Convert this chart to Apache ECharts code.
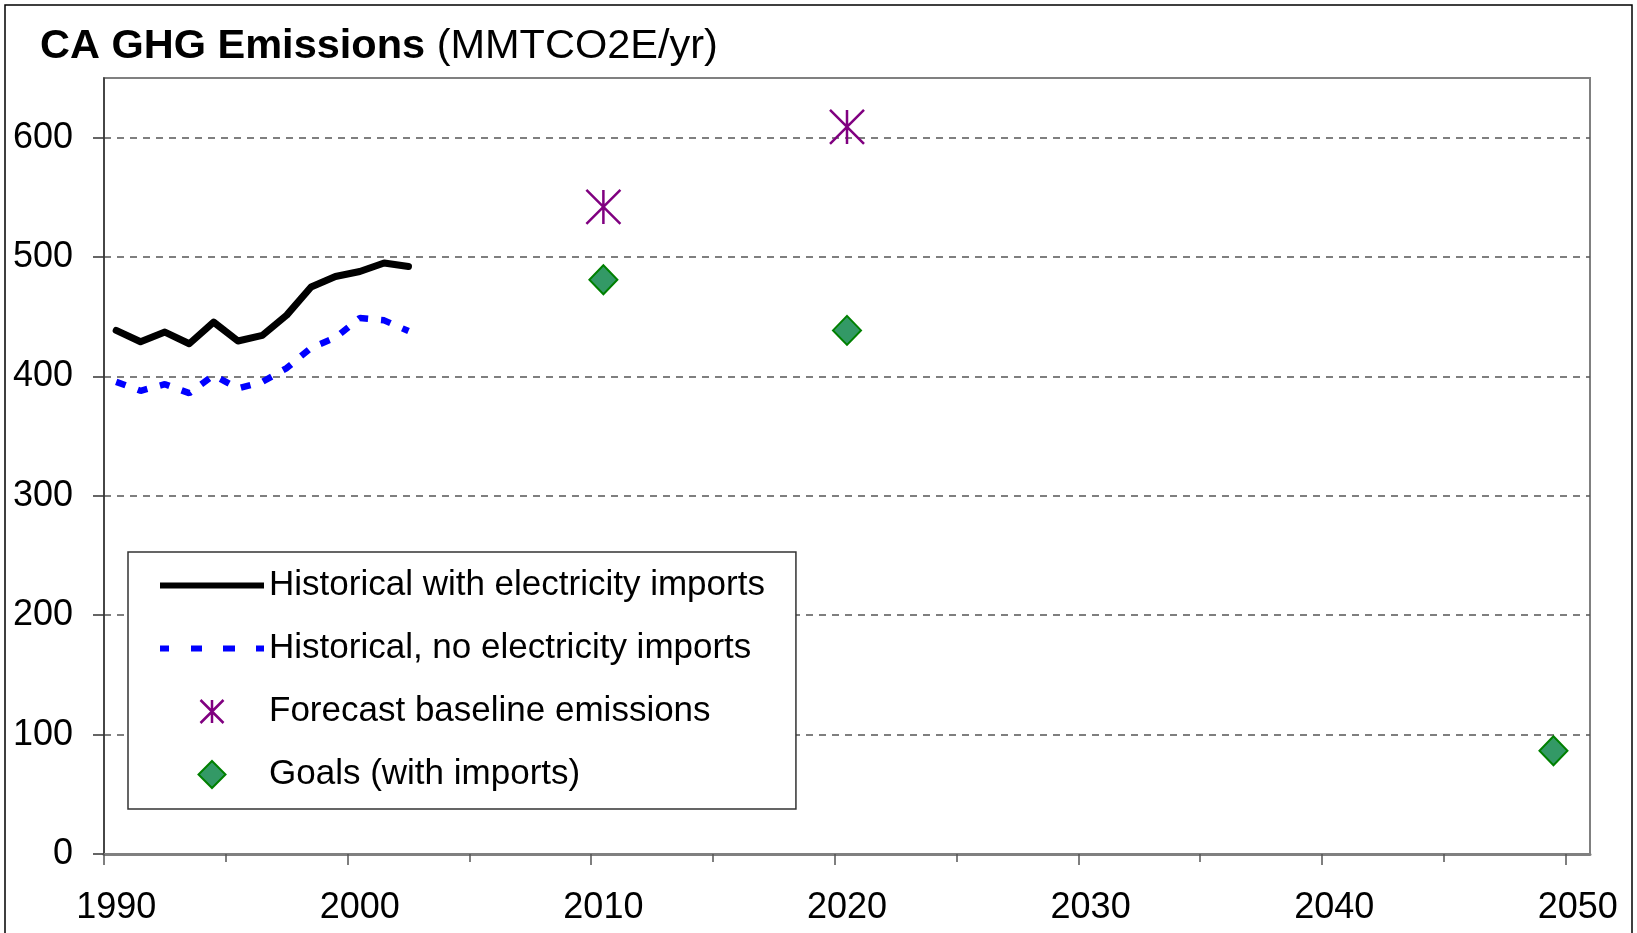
<!DOCTYPE html>
<html><head><meta charset="utf-8">
<script src="https://cdn.jsdelivr.net/npm/echarts@6/dist/echarts.min.js"></script>
<style>html,body{margin:0;padding:0;background:#fff}#c{width:1637px;height:933px}</style>
</head><body><div id="c"></div>
<script>
// ---- data ----
const histYears = [1990,1991,1992,1993,1994,1995,1996,1997,1998,1999,2000,2001,2002];
const histWithImports = [438.6,429.1,437.2,427.4,445.5,429.7,434.4,451.4,475.0,483.7,487.9,495.1,492.1];
const histNoImports = [395.5,388.0,393.5,386.0,401.0,390.0,395.5,407.0,424.0,432.5,449.0,447.0,438.0];
const forecastYears = [2010,2020];
const forecastValues = [542,609];
const goalYears = [2010,2020,2049];
const goalValues = [481,438.6,86.5];
const xLabelYears = [1990,2000,2010,2020,2030,2040,2050];
const xMinorYears = [1995,2005,2015,2025,2035,2045];
const yTickValues = [0,100,200,300,400,500,600];
const seriesNames = ['Historical with electricity imports','Historical, no electricity imports','Forecast baseline emissions','Goals (with imports)'];

const FONT = '"Liberation Sans", Arial, sans-serif';
const pairs = (xs, ys) => xs.map((x, i) => [x, ys[i]]);
const xMin = 1989.5, xMax = 2050.5;

const chart = echarts.init(document.getElementById('c'));
chart.setOption({
  animation: false,
  backgroundColor: '#fff',
  title: {
    left: 40, top: 26, padding: 0,
    text: '{b|CA GHG Emissions} {n|(MMTCO2E/yr)}',
    textStyle: {
      fontFamily: FONT, fontSize: 41.5, color: '#000', fontWeight: 'normal',
      rich: {
        b: {fontFamily: FONT, fontSize: 41.5, fontWeight: 'bold', color: '#000'},
        n: {fontFamily: FONT, fontSize: 41.5, fontWeight: 'normal', color: '#000'}
      }
    }
  },
  grid: {left: 104, right: 47, top: 78, bottom: 79, show: true, borderColor: '#808080', borderWidth: 2, backgroundColor: 'transparent', outerBoundsMode: 'none', containLabel: false},
  legend: {
    orient: 'vertical', left: 128, top: 552,
    padding: [16, 31, 17, 32],
    backgroundColor: '#fff', borderColor: '#333', borderWidth: 1.5,
    itemWidth: 104, itemHeight: 27, itemGap: 28,
    symbolKeepAspect: true,
    textStyle: {fontFamily: FONT, fontSize: 35, color: '#000', lineHeight: 35},
    data: [
      {name: seriesNames[0], icon: 'path://M0,0 H104 V6 H0 Z', itemStyle: {color: '#000', borderWidth: 0}},
      {name: seriesNames[1], icon: 'path://M0,0h9v6h-9z M31,0h11v6h-11z M63,0h12v6h-12z M96,0h8v6h-8z', itemStyle: {color: '#0000ff', borderWidth: 0}},
      {name: seriesNames[2], icon: 'path://M0,0 M27,27 M13.5,2 L13.5,25 M2,2 L25,25 M25,2 L2,25', itemStyle: {color: 'none', borderColor: '#800080', borderWidth: 2.5}},
      {name: seriesNames[3], icon: 'path://M13.5,0 L27,13.5 L13.5,27 L0,13.5 Z', itemStyle: {color: '#339966', borderColor: '#008000', borderWidth: 2}}
    ],
    selectedMode: false
  },
  xAxis: [{
    type: 'value', min: xMin, max: xMax, position: 'bottom',
    axisLine: {show: true, onZero: false, lineStyle: {color: '#808080', width: 3}},
    axisTick: {show: true, length: 11, customValues: xLabelYears.map(y => y - 0.5), lineStyle: {color: '#555', width: 1.5}},
    axisLabel: {show: true, customValues: xLabelYears, margin: 36, fontFamily: FONT, fontSize: 36, color: '#000', formatter: v => String(Math.round(v))},
    splitLine: {show: false}
  }, {
    type: 'value', min: xMin, max: xMax, position: 'bottom',
    axisLine: {show: false},
    axisTick: {show: true, length: 8, customValues: xMinorYears.map(y => y - 0.5), lineStyle: {color: '#555', width: 1.5}},
    axisLabel: {show: false},
    splitLine: {show: false}
  }],
  yAxis: {
    type: 'value', min: 0, max: 650, interval: 100,
    axisLine: {show: true, onZero: false, lineStyle: {color: '#333', width: 1.5}},
    axisTick: {show: true, length: 11, customValues: yTickValues, lineStyle: {color: '#333', width: 1.5}},
    axisLabel: {customValues: yTickValues, margin: 31, fontFamily: FONT, fontSize: 36, color: '#000'},
    splitLine: {show: true, lineStyle: {color: '#555', width: 1.5, type: [7, 6]}}
  },
  series: [{
    name: seriesNames[0], type: 'line', data: pairs(histYears, histWithImports),
    symbol: 'none', lineStyle: {color: '#000', width: 7, cap: 'round', join: 'round'},
    itemStyle: {color: '#000'}, z: 3
  }, {
    name: seriesNames[1], type: 'line', data: pairs(histYears, histNoImports),
    symbol: 'none', lineStyle: {color: '#0000ff', width: 6.5, type: [10, 13]},
    itemStyle: {color: '#0000ff'}, z: 3
  }, {
    name: seriesNames[2], type: 'scatter', data: pairs(forecastYears, forecastValues),
    symbol: 'path://M17,0 L17,34 M0,0 L34,34 M34,0 L0,34', symbolSize: 34, symbolKeepAspect: true,
    itemStyle: {color: 'none', borderColor: '#800080', borderWidth: 2.5, opacity: 1}, z: 4
  }, {
    name: seriesNames[3], type: 'scatter', data: pairs(goalYears, goalValues),
    symbol: 'diamond', symbolSize: [28, 29],
    itemStyle: {color: '#339966', borderColor: '#008000', borderWidth: 2, opacity: 1}, z: 4
  }],
  graphic: [{
    type: 'rect', silent: true, z: 100,
    shape: {x: 5, y: 5, width: 1627, height: 1000},
    style: {fill: 'none', stroke: '#000', lineWidth: 1.5}
  }]
});
</script></body></html>
